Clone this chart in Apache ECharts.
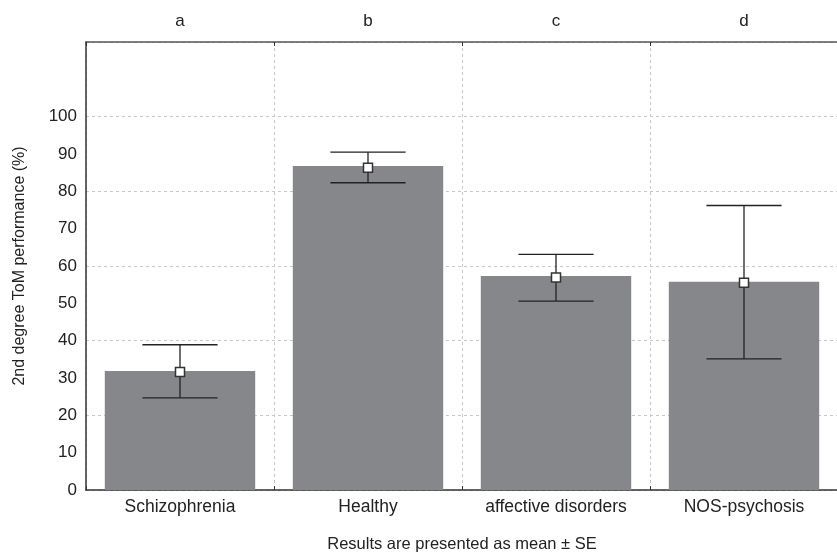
<!DOCTYPE html>
<html>
<head>
<meta charset="utf-8">
<script src="https://cdn.jsdelivr.net/npm/echarts@6/dist/echarts.min.js"></script>
<style>
  html, body { margin: 0; padding: 0; background: #fff; }
  #chart-container { width: 837px; height: 553px; }
</style>
</head>
<body>
<div id="chart-container"></div>
<script>
var categories = ['Schizophrenia', 'Healthy', 'affective disorders', 'NOS-psychosis'];
var groupLetters = ['a', 'b', 'c', 'd'];
var barValues = [31.9, 86.8, 57.3, 55.8];
var meanValues = [31.6, 86.3, 56.9, 55.5];
var seUpper = [38.9, 90.5, 63.1, 76.2];
var seLower = [24.7, 82.3, 50.6, 35.1];

var font = 'Liberation Sans, Arial, sans-serif';
var textColor = '#222';
var axisColor = '#333';

var dom = document.getElementById('chart-container');
var myChart = echarts.init(dom, null, { renderer: 'canvas' });

var errorData = categories.map(function (c, i) {
    return [i, seLower[i], seUpper[i]];
});

var option = {
    animation: false,
    grid: { left: 86, top: 42, width: 752, height: 448, outerBoundsMode: 'none' },
    xAxis: [{
        type: 'category',
        data: categories,
        position: 'bottom',
        name: 'Results are presented as mean \u00b1 SE',
        nameLocation: 'middle',
        nameGap: 46,
        nameTextStyle: { fontFamily: font, fontSize: 16.5, color: textColor },
        axisLine: { onZero: false, lineStyle: { color: axisColor, width: 1.5 } },
        axisTick: { show: true, inside: true, length: 4, lineStyle: { color: axisColor } },
        axisLabel: { fontFamily: font, fontSize: 17.5, color: textColor, margin: 8 },
        splitLine: { show: true, lineStyle: { color: '#c8c8c8', type: [3, 3] } }
    }, {
        type: 'category',
        data: groupLetters,
        position: 'top',
        axisLine: { onZero: false, lineStyle: { color: '#555', width: 1.5 } },
        axisTick: { show: true, inside: true, length: 4, lineStyle: { color: axisColor } },
        axisLabel: { fontFamily: font, fontSize: 17, color: textColor, margin: 12 },
        splitLine: { show: false }
    }],
    yAxis: [{
        type: 'value',
        min: 0,
        max: 120,
        interval: 10,
        position: 'left',
        name: '2nd degree ToM performance (%)',
        nameLocation: 'middle',
        nameGap: 58,
        nameTextStyle: { fontFamily: font, fontSize: 16, color: textColor },
        axisLine: { show: true, onZero: false, lineStyle: { color: axisColor, width: 1.5 } },
        axisTick: { show: false },
        axisLabel: {
            fontFamily: font, fontSize: 17, color: textColor, margin: 9,
            formatter: function (v) { return v > 100 ? '' : v; }
        },
        splitLine: { show: false }
    }, {
        type: 'value',
        min: 0,
        max: 120,
        interval: 20,
        position: 'right',
        axisLine: { show: true, onZero: false, lineStyle: { color: axisColor, width: 1.5 } },
        axisTick: { show: false },
        axisLabel: { show: false },
        splitLine: { show: true, lineStyle: { color: '#c8c8c8', type: [3, 3] } }
    }],
    series: [{
        type: 'bar',
        data: barValues,
        barWidth: '80%',
        itemStyle: { color: '#86878b' },
        z: 2
    }, {
        type: 'custom',
        data: errorData,
        encode: { x: 0, y: [1, 2] },
        z: 3,
        renderItem: function (params, api) {
            var idx = api.value(0);
            var low = api.coord([idx, api.value(1)]);
            var high = api.coord([idx, api.value(2)]);
            var halfW = api.size([1, 0])[0] * 0.2;
            var style = { stroke: '#222', lineWidth: 1.3 };
            return {
                type: 'group',
                children: [
                    { type: 'line', shape: { x1: low[0], y1: low[1], x2: high[0], y2: high[1] }, style: style },
                    { type: 'line', shape: { x1: high[0] - halfW, y1: high[1], x2: high[0] + halfW, y2: high[1] }, style: style },
                    { type: 'line', shape: { x1: low[0] - halfW, y1: low[1], x2: low[0] + halfW, y2: low[1] }, style: style }
                ]
            };
        }
    }, {
        type: 'scatter',
        data: meanValues,
        symbol: 'rect',
        symbolSize: 9,
        itemStyle: { color: '#fff', borderColor: '#333', borderWidth: 1.5, opacity: 1 },
        z: 4
    }]
};

myChart.setOption(option);
window.addEventListener('resize', myChart.resize);
</script>
</body>
</html>
